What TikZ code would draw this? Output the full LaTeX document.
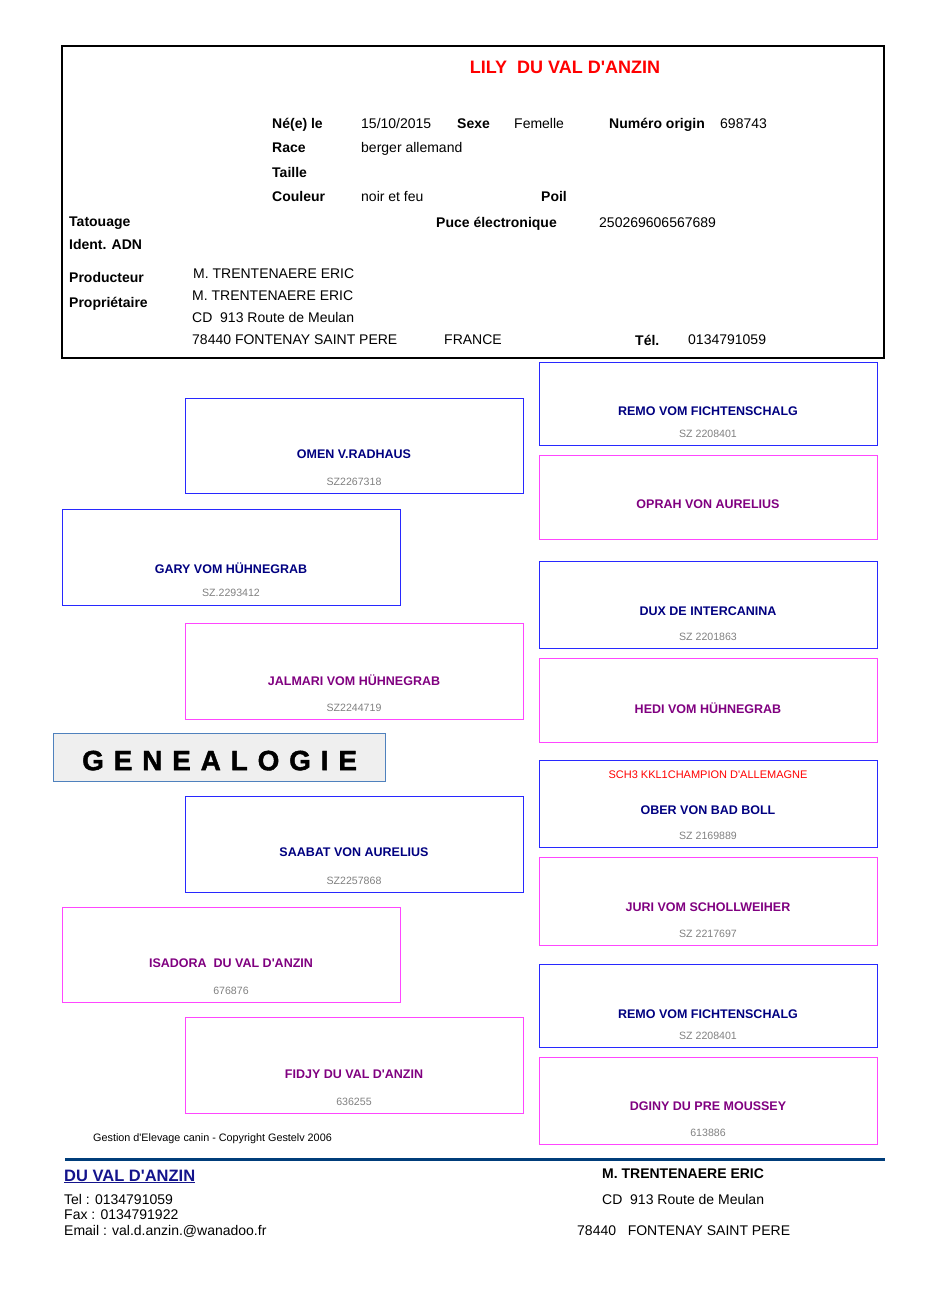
\documentclass[tikz,border=0pt]{standalone}
\usepackage{fontspec}
\setmainfont{Liberation Sans}[Ligatures=TeXOff]
\usepackage{xcolor}
\usepackage{tikz}
\usetikzlibrary{positioning}
\definecolor{maleblue}{RGB}{40,40,255}
\definecolor{femmagenta}{RGB}{255,70,255}
\definecolor{malenavy}{RGB}{0,0,128}
\definecolor{fempurple}{RGB}{128,0,128}
\definecolor{reggray}{RGB}{128,128,128}
\definecolor{footblue}{RGB}{0,61,122}
\definecolor{kennelblue}{RGB}{20,20,140}
\definecolor{genborder}{RGB}{79,129,189}
\definecolor{genfill}{RGB}{239,239,239}
\tikzstyle{malebox} = [draw=maleblue, line width=1.2pt, anchor=north west, minimum width=338pt, inner sep=0]
\tikzstyle{fembox} = [draw=femmagenta, line width=1.2pt, anchor=north west, minimum width=338pt, inner sep=0]
\tikzstyle{mname} = [font=\fontsize{12.5}{14}\selectfont\bfseries, text=malenavy, inner sep=0]
\tikzstyle{fname} = [font=\fontsize{12.5}{14}\selectfont\bfseries, text=fempurple, inner sep=0]
\tikzstyle{regno} = [font=\fontsize{10.6}{12}\selectfont, text=reggray, inner sep=0]
\tikzstyle{lbl} = [font=\fontsize{14}{16}\selectfont\bfseries, anchor=base west, inner sep=0]
\tikzstyle{val} = [font=\fontsize{14}{16}\selectfont, anchor=base west, inner sep=0]

\begin{document}
\begin{tikzpicture}[x=1pt, y=-1pt]
\useasboundingbox (0,0) rectangle (929,1314);

% identity card
\node[draw=black, line width=1.8pt, anchor=north west,
minimum width=822pt, minimum height=312pt, inner sep=0] (card) at (61,45) {};
\node[font=\fontsize{18}{20}\selectfont\bfseries, text=red, anchor=base, inner sep=0]
(dogtitle) at (565,73.5) {LILY\ \ DU VAL D'ANZIN};

\node[lbl] (neele) at (272,128) {Né(e) le};
\node[val] (birth) at (361,128) {15/10/2015};
\node[lbl] (sexe) at (457,128) {Sexe};
\node[val] (sexeval) at (514,128) {Femelle};
\node[lbl] (numero) at (609,128) {Numéro origin};
\node[val] (numeroval) at (720,128) {698743};
\node[lbl] (race) at (272,152) {Race};
\node[val] (raceval) at (361,152) {berger allemand};
\node[lbl] (taille) at (272,177) {Taille};
\node[lbl] (couleur) at (272,201) {Couleur};
\node[val] (couleurval) at (361,201) {noir et feu};
\node[lbl] (poil) at (541,201) {Poil};
\node[lbl] (tatouage) at (69,226) {Tatouage};
\node[lbl] (puce) at (436,227) {Puce électronique};
\node[val] (puceval) at (599,227) {250269606567689};
\node[lbl] (adn) at (69,249) {Ident. ADN};
\node[lbl] (producteur) at (69,282) {Producteur};
\node[val] (producteurval) at (193,278) {M. TRENTENAERE ERIC};
\node[lbl] (proprio) at (69,307) {Propriétaire};
\node[val] (proprioval) at (192,300) {M. TRENTENAERE ERIC};
\node[val] (adresse) at (192,322) {CD\ \ 913 Route de Meulan};
\node[val] (ville) at (192,344) {78440 FONTENAY SAINT PERE};
\node[val] (pays) at (444,344) {FRANCE};
\node[lbl] (tel) at (635,345) {Tél.};
\node[val] (telval) at (688,344) {0134791059};

% parents
\node[malebox, minimum height=96pt] (gary) at (62,509) {};
\node[mname] (garyname) at (231,568) {GARY VOM HÜHNEGRAB};
\node[regno] (garyreg) at (231,593) {SZ.2293412};
\node[fembox, minimum height=95pt] (isadora) at (62,907) {};
\node[fname] (isadoraname) at (231,963) {ISADORA\ \ DU VAL D'ANZIN};
\node[regno] (isadorareg) at (231,991) {676876};

% grandparents
\node[malebox, minimum height=95pt] (omen) at (185,398) {};
\node[mname] (omenname) at (354,454) {OMEN V.RADHAUS};
\node[regno] (omenreg) at (354,482) {SZ2267318};
\node[fembox, minimum height=96pt] (jalmari) at (185,623) {};
\node[fname] (jalmariname) at (354,680) {JALMARI VOM HÜHNEGRAB};
\node[regno] (jalmarireg) at (354,708) {SZ2244719};
\node[malebox, minimum height=96pt] (saabat) at (185,796) {};
\node[mname] (saabatname) at (354,852) {SAABAT VON AURELIUS};
\node[regno] (saabatreg) at (354,881) {SZ2257868};
\node[fembox, minimum height=96pt] (fidjy) at (185,1017) {};
\node[fname] (fidjyname) at (354,1074) {FIDJY DU VAL D'ANZIN};
\node[regno] (fidjyreg) at (354,1102) {636255};

% great-grandparents
\node[malebox, minimum height=83pt] (remoa) at (539,362) {};
\node[mname] (remoaname) at (708,411) {REMO VOM FICHTENSCHALG};
\node[regno] (remoareg) at (708,434) {SZ 2208401};
\node[fembox, minimum height=84pt] (oprah) at (539,455) {};
\node[fname] (oprahname) at (708,504) {OPRAH VON AURELIUS};
\node[malebox, minimum height=87pt] (dux) at (539,561) {};
\node[mname] (duxname) at (708,611) {DUX DE INTERCANINA};
\node[regno] (duxreg) at (708,637) {SZ 2201863};
\node[fembox, minimum height=84pt] (hedi) at (539,658) {};
\node[fname] (hediname) at (708,708) {HEDI VOM HÜHNEGRAB};
\node[malebox, minimum height=87pt] (ober) at (539,760) {};
\node[font=\fontsize{11}{13}\selectfont, text=red, inner sep=0] (obertitle) at (708,775) {SCH3 KKL1CHAMPION D'ALLEMAGNE};
\node[mname] (obername) at (708,810) {OBER VON BAD BOLL};
\node[regno] (oberreg) at (708,836) {SZ 2169889};
\node[fembox, minimum height=88pt] (juri) at (539,857) {};
\node[fname] (juriname) at (708,907) {JURI VOM SCHOLLWEIHER};
\node[regno] (jurireg) at (708,934) {SZ 2217697};
\node[malebox, minimum height=83pt] (remob) at (539,964) {};
\node[mname] (remobname) at (708,1014) {REMO VOM FICHTENSCHALG};
\node[regno] (remobreg) at (708,1036) {SZ 2208401};
\node[fembox, minimum height=87pt] (dginy) at (539,1057) {};
\node[fname] (dginyname) at (708,1106) {DGINY DU PRE MOUSSEY};
\node[regno] (dginyreg) at (708,1133) {613886};

% title plate
\node[draw=genborder, fill=genfill, line width=1.2pt, anchor=north west,
minimum width=332pt, minimum height=48pt, inner sep=0] (genplate) at (53,733) {};
\node[font=\fontsize{28}{30}\selectfont\bfseries\addfontfeature{LetterSpace=35,FakeBold=1.5}, inner sep=0]
(gentext) at ([yshift=-3pt]genplate.center) {GENEALOGIE};

% footer
\node[font=\fontsize{10.8}{12}\selectfont, anchor=base west, inner sep=0] (copyright) at (93,1141.5) {Gestion d'Elevage canin - Copyright Gestelv 2006};
\coordinate (ruleleft) at (65,1159);
\coordinate (ruleright) at (885,1159);
\draw[footblue, line width=3pt] (ruleleft) -- (ruleright);
\node[font=\fontsize{16.5}{18}\selectfont\bfseries, text=kennelblue, anchor=base west, inner sep=0]
(kennel) at (64,1181) {\underline{DU VAL D'ANZIN}};
\node[val] (ftel) at (64,1204) {Tel : 0134791059};
\node[val] (ffax) at (64,1219) {Fax : 0134791922};
\node[val] (fmail) at (64,1235) {Email : val.d.anzin.@wanadoo.fr};
\node[lbl] (fowner) at (602,1178) {M. TRENTENAERE ERIC};
\node[val] (fstreet) at (602,1204) {CD\ \ 913 Route de Meulan};
\node[val] (ftown) at (577,1235) {78440\ \ \ FONTENAY SAINT PERE};
\end{tikzpicture}
\end{document}
